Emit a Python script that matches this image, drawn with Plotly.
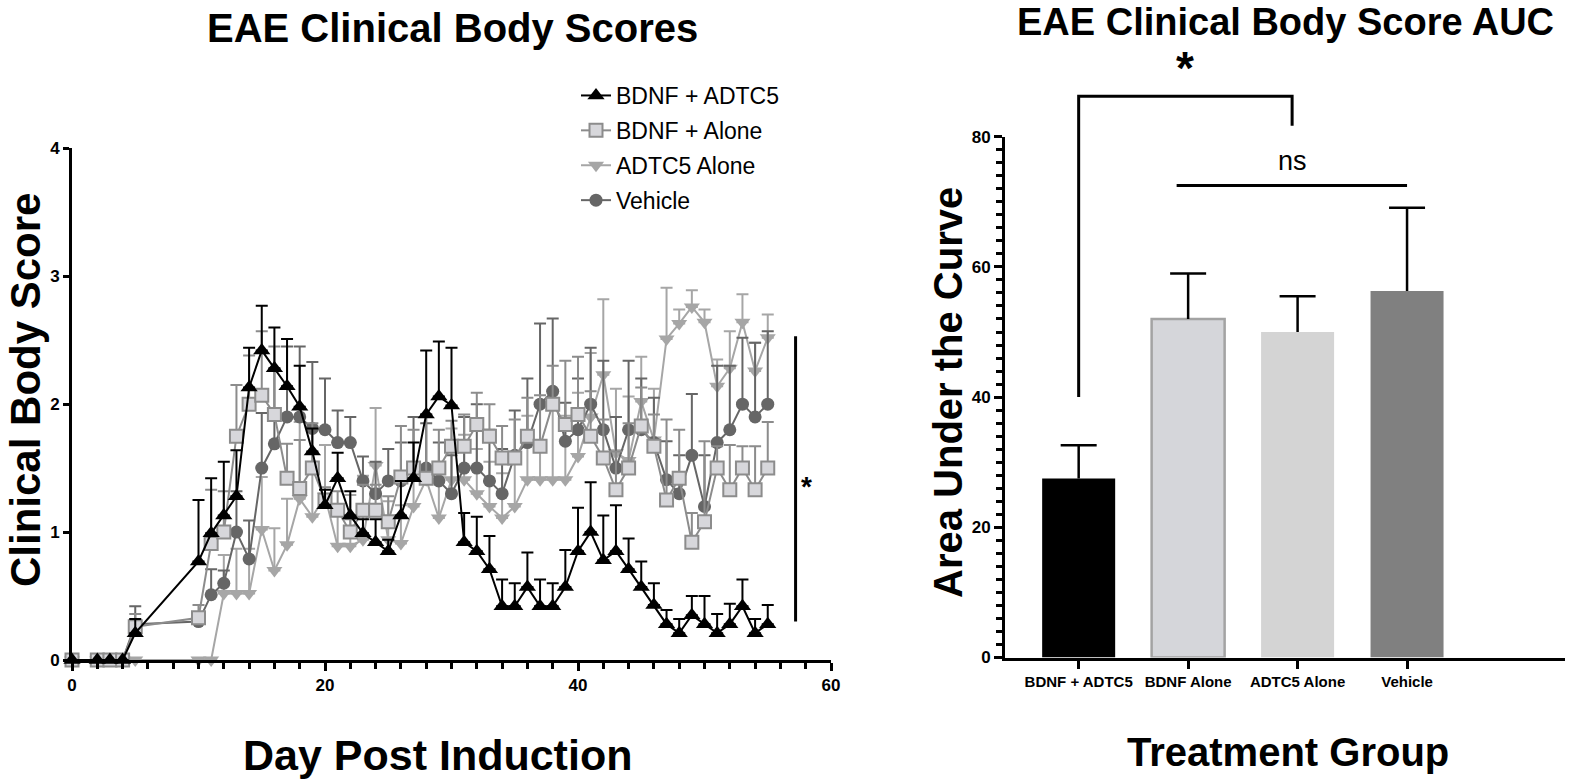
import plotly.graph_objects as go

# ---------------- data: left panel (clinical score per day) ----------------
days = [0, 2, 3, 4, 5, 10, 11, 12, 13, 14, 15, 16, 17, 18, 19, 20, 21, 22, 23, 24, 25,
        26, 27, 28, 29, 30, 31, 32, 33, 34, 35, 36, 37, 38, 39, 40, 41, 42, 43, 44, 45,
        46, 47, 48, 49, 50, 51, 52, 53, 54, 55]

combo_mean = [0, 0, 0, 0, 0.21,
              0.77, 0.99, 1.13, 1.28, 2.13, 2.42, 2.28, 2.14, 1.98, 1.63,
              1.21, 1.42, 1.13, 0.99, 0.92, 0.85, 1.13, 1.42, 1.92, 2.06,
              1.99, 0.92, 0.85, 0.71, 0.42, 0.42, 0.57, 0.42, 0.42, 0.57,
              0.85, 1.00, 0.78, 0.85, 0.71, 0.57, 0.43, 0.28, 0.21, 0.35,
              0.28, 0.21, 0.28, 0.42, 0.21, 0.28]
combo_sem = [0, 0, 0, 0, 0.11,
             0.48, 0.43, 0.42, 0.36, 0.31, 0.35, 0.32, 0.37, 0.32, 0.18,
             0.12, 0.20, 0.19, 0.11, 0.18, 0.09, 0.27, 0.28, 0.50, 0.43,
             0.45, 0.23, 0.27, 0.26, 0.21, 0.18, 0.27, 0.21, 0.18, 0.29,
             0.34, 0.39, 0.35, 0.36, 0.24, 0.20, 0.17, 0.11, 0.11, 0.15,
             0.22, 0.15, 0.16, 0.21, 0.11, 0.15]

bdnf_mean = [0, 0, 0, 0, 0.26,
             0.33, 0.91, 1.00, 1.75, 2.00, 2.07, 1.92, 1.42, 1.34, 1.50,
             1.25, 1.17, 1.00, 1.17, 1.17, 1.08, 1.43, 1.50, 1.42, 1.50,
             1.67, 1.67, 1.84, 1.75, 1.58, 1.58, 1.75, 1.67, 2.00, 1.84,
             1.92, 1.75, 1.58, 1.33, 1.50, 1.83, 1.67, 1.25, 1.42, 0.92,
             1.08, 1.50, 1.33, 1.50, 1.33, 1.50]
bdnf_sem = [0, 0, 0, 0, 0.10,
            0.10, 0.42, 0.32, 0.40, 0.38, 0.50, 0.53, 0.27, 0.38, 0.35,
            0.10, 0.15, 0.10, 0.20, 0.20, 0.20, 0.40, 0.30, 0.50, 0.30,
            0.20, 0.25, 0.25, 0.25, 0.25, 0.30, 0.30, 0.40, 0.30, 0.50,
            0.45, 0.35, 0.30, 0.30, 0.35, 0.30, 0.25, 0.63, 0.38, 0.23,
            0.63, 0.17, 0.35, 0.17, 0.34, 0.36]

adtc_mean = [0, 0, 0, 0, 0,
             0, 0, 0.52, 0.52, 0.52, 1.02, 0.70, 0.90, 1.26, 1.12,
             1.28, 0.89, 0.89, 0.94, 1.52, 0.94, 0.91, 1.20, 1.41, 1.11,
             1.41, 1.41, 1.30, 1.20, 1.11, 1.20, 1.41, 1.41, 1.41, 1.41,
             1.59, 1.90, 2.23, 1.62, 1.56, 2.02, 1.72, 2.51, 2.63, 2.76,
             2.64, 2.14, 2.28, 2.64, 2.26, 2.52]
adtc_sem = [0, 0, 0, 0, 0,
            0, 0, 0.30, 0.35, 0.35, 0.41, 0.33, 0.36, 0.60, 0.50,
            0.40, 0.30, 0.40, 0.50, 0.45, 0.30, 0.30, 0.30, 0.50, 0.40,
            0.40, 0.35, 0.35, 0.35, 0.35, 0.40, 0.50, 0.60, 0.70, 0.50,
            0.50, 0.50, 0.59, 0.50, 0.50, 0.35, 0.40, 0.40, 0.11, 0.13,
            0.10, 0.21, 0.29, 0.22, 0.22, 0.18]

vehicle_mean = [0, 0, 0, 0, 0.28,
                0.30, 0.51, 0.60, 1.00, 0.79, 1.50, 1.69, 1.90, 1.90, 1.81,
                1.80, 1.70, 1.70, 1.40, 1.30, 1.40, 1.40, 1.50, 1.50, 1.40,
                1.30, 1.50, 1.50, 1.40, 1.30, 1.60, 1.70, 2.00, 2.10, 1.71,
                1.80, 2.00, 1.80, 1.50, 1.80, 1.80, 1.70, 1.41, 1.30, 1.60,
                1.20, 1.70, 1.80, 2.00, 1.90, 2.00]
vehicle_sem = [0, 0, 0, 0, 0.14,
               0.05, 0.20, 0.10, 0.32, 0.30, 0.43, 0.58, 0.55, 0.55, 0.52,
               0.40, 0.25, 0.20, 0.19, 0.25, 0.25, 0.30, 0.40, 0.35, 0.30,
               0.30, 0.40, 0.50, 0.40, 0.35, 0.35, 0.50, 0.63, 0.57, 0.30,
               0.40, 0.44, 0.54, 0.40, 0.54, 0.40, 0.35, 0.30, 0.30, 0.48,
               0.40, 0.60, 0.50, 0.52, 0.58, 0.57]

# ---------------- data: right panel (AUC) ----------------
groups = ["BDNF + ADTC5", "BDNF Alone", "ADTC5 Alone", "Vehicle"]
auc_mean = [27.5, 52.0, 50.0, 56.3]
auc_sem = [5.1, 7.0, 5.5, 12.8]

# significance annotations (data units of right panel)
sig_star_left_level = 40
sig_star_top = 86.2
sig_star_right_level = 81.7
ns_level = 72.5

# ---------------- layout geometry ----------------
W, H = 1576, 783


def px_x(p):
    return p / W


def px_y(p):
    return 1 - p / H


L_XDOM = [px_x(72), px_x(831)]
L_YDOM = [px_y(660), px_y(148.3)]
R_XDOM = [px_x(1005), px_x(1565)]
R_YDOM = [px_y(657.5), px_y(136.7)]
R_XRANGE = [-0.673, 4.443]
R_YRANGE = [0, 80]
R_PX_PER_CAT = (1565 - 1005) / (R_XRANGE[1] - R_XRANGE[0])


def r_paper(c, v):
    x = R_XDOM[0] + (c - R_XRANGE[0]) / (R_XRANGE[1] - R_XRANGE[0]) * (R_XDOM[1] - R_XDOM[0])
    y = R_YDOM[0] + (v - R_YRANGE[0]) / (R_YRANGE[1] - R_YRANGE[0]) * (R_YDOM[1] - R_YDOM[0])
    return x, y


FONT = "Liberation Sans, Arial, Helvetica, sans-serif"

fig = go.Figure()

series = [
    ("ADTC5 Alone", adtc_mean, adtc_sem, "triangle-down", "#a6a6a6", "#a6a6a6", 14, 3),
    ("Vehicle", vehicle_mean, vehicle_sem, "circle", "#666666", "#666666", 13, 4),
    ("BDNF + Alone", bdnf_mean, bdnf_sem, "square", "#d7d7db", "#8c8c8c", 13, 2),
    ("BDNF + ADTC5", combo_mean, combo_sem, "triangle-up", "#000000", "#000000", 15, 1),
]

for name, m, s, sym, fill, edge, size, rank in series:
    fig.add_trace(go.Scatter(
        x=days, y=m, name=name, mode="lines+markers",
        legendrank=rank, legendgroup=name,
        line=dict(color=edge, width=2),
        marker=dict(symbol=sym, size=size, color=fill,
                    line=dict(color=edge, width=2 if sym == "square" else 0)),
        error_y=dict(type="data", array=s, arrayminus=[0] * len(s), symmetric=False,
                     color=edge, thickness=2, width=6),
        cliponaxis=False,
        xaxis="x", yaxis="y",
    ))

bar_fill = ["#000000", "#d5d6da", "#d4d4d4", "#808080"]
bar_edge = ["#000000", "#a3a3a3", "#d4d4d4", "#808080"]
bar_edge_w = [0, 2.5, 0, 0]
bar_x = list(range(len(groups)))

fig.add_trace(go.Bar(
    x=bar_x, y=auc_mean, width=0.667,
    marker=dict(color=bar_fill, line=dict(color=bar_edge, width=bar_edge_w)),
    showlegend=False, xaxis="x2", yaxis="y2",
))

# upward-only error bars (no cap at the bar top), built from the AUC arrays
cap_half = 18 / R_PX_PER_CAT
ex, ey = [], []
for i, (m, s) in enumerate(zip(auc_mean, auc_sem)):
    ex += [i, i, None, i - cap_half, i + cap_half, None]
    ey += [m, m + s, None, m + s, m + s, None]
fig.add_trace(go.Scatter(x=ex, y=ey, mode="lines", line=dict(color="black", width=2.5),
                         showlegend=False, hoverinfo="skip", cliponaxis=False,
                         xaxis="x2", yaxis="y2"))

TICKFONT = dict(family=FONT, size=17, color="black", weight="bold")
axis_common = dict(showline=True, linecolor="black", linewidth=3, showgrid=False,
                   zeroline=False, ticks="outside", tickcolor="black", tickwidth=2.5,
                   tickfont=TICKFONT)

fig.update_layout(
    width=W, height=H,
    margin=dict(l=0, r=0, t=0, b=0, autoexpand=False),
    paper_bgcolor="white", plot_bgcolor="white",
    xaxis=dict(domain=L_XDOM, range=[0, 60], anchor="y", tickmode="linear", tick0=0, dtick=20,
               ticklen=8, minor=dict(tickmode="linear", tick0=0, dtick=2, ticks="outside",
                                     ticklen=6, tickwidth=2.5, tickcolor="black"),
               **axis_common),
    yaxis=dict(domain=L_YDOM, range=[0, 4], anchor="x", tickmode="linear", tick0=0, dtick=1,
               ticklen=6, **axis_common),
    xaxis2=dict(domain=R_XDOM, range=R_XRANGE, anchor="y2",
                tickmode="array", tickvals=bar_x, ticktext=groups, ticklen=8,
                **{**axis_common, "tickfont": dict(TICKFONT, size=15)}),
    yaxis2=dict(domain=R_YDOM, range=R_YRANGE, anchor="x2", tickmode="linear", tick0=0,
                dtick=20, ticklen=8,
                minor=dict(tickmode="linear", tick0=0, dtick=2, ticks="outside", ticklen=6,
                           tickwidth=2.5, tickcolor="black"),
                **axis_common),
    legend=dict(x=px_x(576), y=px_y(74), xanchor="left", yanchor="top",
                font=dict(family=FONT, size=23, color="black"),
                itemwidth=30, tracegroupgap=2, bgcolor="rgba(0,0,0,0)"),
    showlegend=True,
)

annos = []


def title(text, xp, yp, size, angle=0):
    annos.append(dict(text=text, x=px_x(xp), y=px_y(yp), xref="paper", yref="paper",
                      showarrow=False, xanchor="center", yanchor="middle", textangle=angle,
                      font=dict(family=FONT, size=size, color="black", weight="bold")))


title("EAE Clinical Body Scores", 452, 28, 40)
title("EAE Clinical Body Score AUC", 1285, 22, 38)
title("Day Post Induction", 438, 755, 43)
title("Treatment Group", 1288, 752, 40)
title("Clinical Body Score", 25, 390, 42, -90)
title("Area Under the Curve", 948, 393, 40, -90)

# left-panel significance
annos.append(dict(text="*", x=58.1, y=1.36, xref="x", yref="y", showarrow=False,
                  font=dict(family=FONT, size=28, color="black", weight="bold")))

# right-panel significance bracket
p0 = r_paper(0, sig_star_left_level)
p1 = r_paper(0, sig_star_top)
p2 = r_paper(1.95, sig_star_top)
p3 = r_paper(1.95, sig_star_right_level)
q0 = r_paper(0.895, ns_level)
q1 = r_paper(3.0, ns_level)
star_pos = r_paper(0.97, 90.5)
ns_pos = r_paper(1.95, 76.3)

annos.append(dict(text="*", x=star_pos[0], y=star_pos[1], xref="paper", yref="paper",
                  showarrow=False, xanchor="center", yanchor="middle",
                  font=dict(family=FONT, size=46, color="black", weight="bold")))
annos.append(dict(text="ns", x=ns_pos[0], y=ns_pos[1], xref="paper", yref="paper",
                  showarrow=False, xanchor="center", yanchor="middle",
                  font=dict(family=FONT, size=27, color="black")))

shapes = [
    dict(type="line", xref="x", yref="y", x0=57.2, x1=57.2, y0=0.30, y1=2.53,
         line=dict(color="black", width=3)),
    dict(type="path", xref="paper", yref="paper",
         path=f"M {p0[0]},{p0[1]} L {p1[0]},{p1[1]} L {p2[0]},{p2[1]} L {p3[0]},{p3[1]}",
         line=dict(color="black", width=3)),
    dict(type="line", xref="paper", yref="paper", x0=q0[0], x1=q1[0], y0=q0[1], y1=q1[1],
         line=dict(color="black", width=3)),
]

fig.update_layout(annotations=annos, shapes=shapes)

page_fix = ("document.documentElement.style.margin='0';document.documentElement.style.overflow='hidden';"
            "document.body.style.margin='0';document.body.style.padding='0';"
            "document.body.style.overflow='hidden';")
fig.write_html("out.html", post_script=page_fix, config={"displayModeBar": False})
